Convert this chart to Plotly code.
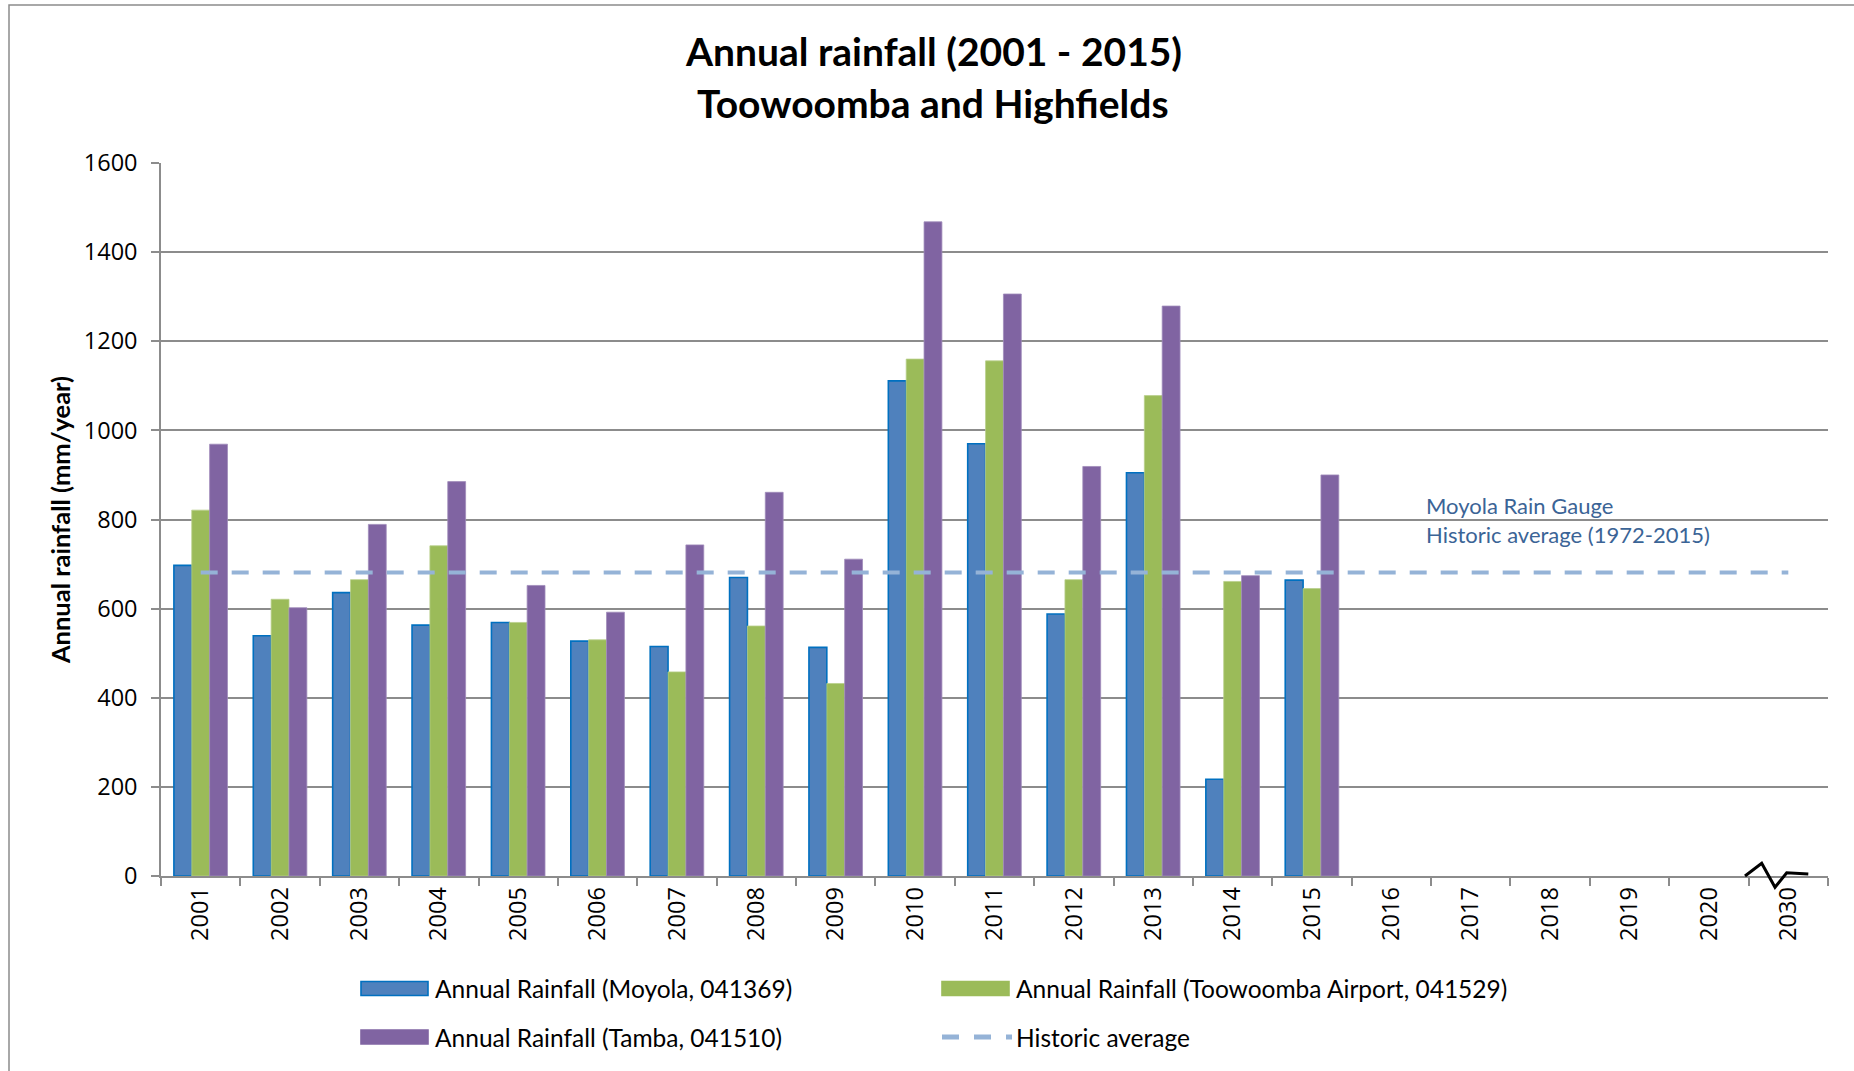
import plotly.graph_objects as go

# ---- data -------------------------------------------------------------
years = ["2001", "2002", "2003", "2004", "2005", "2006", "2007", "2008",
         "2009", "2010", "2011", "2012", "2013", "2014", "2015", "2016",
         "2017", "2018", "2019", "2020", "2030"]
rain_years = years[:15]

moyola = [697, 539, 636, 563, 569, 527, 515, 670, 513, 1111, 970, 588, 905, 217, 664]
toowoomba_airport = [821, 621, 665, 741, 569, 530, 458, 561, 432, 1160, 1156, 665, 1078, 661, 645]
tamba = [969, 602, 789, 885, 652, 592, 743, 861, 711, 1468, 1306, 919, 1279, 674, 900]
historic_average = 681

series_names = [
    "Annual Rainfall (Moyola, 041369)",
    "Annual Rainfall (Toowoomba Airport, 041529)",
    "Annual Rainfall (Tamba, 041510)",
    "Historic average",
]
y_ticks = [0, 200, 400, 600, 800, 1000, 1200, 1400, 1600]

# ---- styling ----------------------------------------------------------
W, H = 1854, 1071
ML, MR, MT, MB = 161, 26, 163, 195
PW, PH = W - ML - MR, H - MT - MB

BLUE, BLUE_EDGE = "#4F81BD", "#0070C0"
GREEN, GREEN_EDGE = "#9BBB59", "#B9CF8C"
PURPLE, PURPLE_EDGE = "#8064A2", "#A08BBA"
AVG_COLOR = "#95B3D7"
GRID = "#8C8C8C"
TEXT_FONT = "Lato"
TICK_FONT = "Open Sans"


def px(x):
    """Horizontal page pixel -> paper fraction."""
    return (x - ML) / PW


def py(y):
    """Vertical page pixel -> paper fraction."""
    return (H - MB - y) / PH


fig = go.Figure()

fig.add_trace(go.Bar(x=rain_years, y=moyola, name=series_names[0],
                     marker=dict(color=BLUE, line=dict(color=BLUE_EDGE, width=1.6))))
fig.add_trace(go.Bar(x=rain_years, y=toowoomba_airport, name=series_names[1],
                     marker=dict(color=GREEN, line=dict(color=GREEN_EDGE, width=0.8))))
fig.add_trace(go.Bar(x=rain_years, y=tamba, name=series_names[2],
                     marker=dict(color=PURPLE, line=dict(color=PURPLE_EDGE, width=0.8))))
fig.add_trace(go.Scatter(x=years, y=[historic_average] * len(years), name=series_names[3],
                         mode="lines", line=dict(color=AVG_COLOR, width=4, dash="17px,14px")))

shapes = []
annotations = []

# outer chart frame (runs off the right and bottom edges)
shapes.append(dict(type="rect", xref="paper", yref="paper",
                   x0=px(9), x1=px(1900), y0=py(1120), y1=py(5),
                   line=dict(color="#8C8C8C", width=1.5), fillcolor="rgba(0,0,0,0)", layer="below"))

# axis-break squiggle before the 2030 category
brk = [(1745, 876), (1761.7, 863.3), (1775, 887.3), (1786.7, 872.7), (1808.3, 874)]
path = "M " + " L ".join(f"{px(a):.5f},{py(b):.5f}" for a, b in brk)
shapes.append(dict(type="path", xref="paper", yref="paper", path=path,
                   line=dict(color="black", width=3)))

# title
annotations.append(dict(text="<b>Annual rainfall (2001 - 2015)</b>", xref="paper", yref="paper",
                        x=px(933), y=py(51), xanchor="center", yanchor="middle", showarrow=False,
                        font=dict(family=TEXT_FONT, size=39, color="black")))
annotations.append(dict(text="<b>Toowoomba and Highfields</b>", xref="paper", yref="paper",
                        x=px(933), y=py(103), xanchor="center", yanchor="middle", showarrow=False,
                        font=dict(family=TEXT_FONT, size=39, color="black")))

# note for the historic average line
for txt, yy in [("Moyola Rain Gauge", 505), ("Historic average (1972-2015)", 534.5)]:
    annotations.append(dict(text=txt, xref="paper", yref="paper", x=px(1424), y=py(yy),
                            xanchor="left", yanchor="middle", showarrow=False,
                            font=dict(family=TEXT_FONT, size=22, color="#3B6496")))

# legend (two columns, two rows)
legend_items = [
    (series_names[0], 361, 988.5, "bar", BLUE, BLUE_EDGE),
    (series_names[1], 942, 988.5, "bar", GREEN, GREEN),
    (series_names[2], 361, 1037, "bar", PURPLE, PURPLE),
    (series_names[3], 942, 1037, "line", AVG_COLOR, AVG_COLOR),
]
for name, x0, yc, kind, fill, edge in legend_items:
    if kind == "bar":
        shapes.append(dict(type="rect", xref="paper", yref="paper",
                           x0=px(x0), x1=px(x0 + 67), y0=py(yc + 7), y1=py(yc - 7),
                           fillcolor=fill, line=dict(color=edge, width=1.6)))
    else:
        shapes.append(dict(type="line", xref="paper", yref="paper",
                           x0=px(x0), x1=px(x0 + 70), y0=py(yc), y1=py(yc),
                           line=dict(color=fill, width=5, dash="17px,15px")))
    annotations.append(dict(text=name, xref="paper", yref="paper", x=px(x0 + 72), y=py(yc),
                            xanchor="left", yanchor="middle", showarrow=False,
                            font=dict(family=TEXT_FONT, size=24.5, color="black")))

fig.update_layout(
    width=W, height=H,
    margin=dict(l=ML, r=MR, t=MT, b=MB, pad=0),
    paper_bgcolor="white", plot_bgcolor="white",
    barmode="group", bargap=0.325, bargroupgap=0,
    showlegend=False,
    shapes=shapes, annotations=annotations,
    font=dict(family=TEXT_FONT, color="black"),
)

fig.update_xaxes(
    type="category", categoryorder="array", categoryarray=years,
    range=[-0.5, len(years) - 0.5],
    showline=True, linecolor=GRID, linewidth=1.5,
    ticks="outside", ticklen=8, tickcolor=GRID, tickwidth=1.5,
    tickson="boundaries", tickangle=-90,
    tickfont=dict(family=TICK_FONT, size=23.5, color="black"),
    showgrid=False, zeroline=False,
)
fig.update_yaxes(
    range=[0, 1600], tickvals=y_ticks,
    showline=True, linecolor=GRID, linewidth=1.5,
    ticks="outside", ticklen=8, tickcolor=GRID, tickwidth=1.5,
    showgrid=True, gridcolor=GRID, gridwidth=1.5, zeroline=False,
    tickfont=dict(family=TICK_FONT, size=23.5, color="black"),
    ticklabelstandoff=9,
    title=dict(text="<b>Annual rainfall (mm/year)</b>", standoff=6,
               font=dict(family=TEXT_FONT, size=25.5, color="black")),
)

fig.write_html("out.html")
